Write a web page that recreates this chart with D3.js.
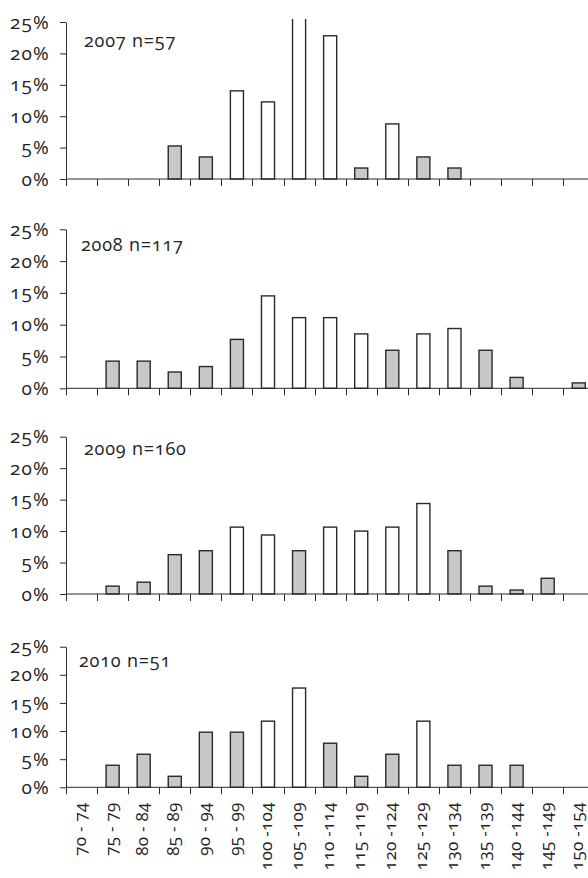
<!DOCTYPE html>
<html>
<head>
<meta charset="utf-8">
<script src="https://cdn.jsdelivr.net/npm/d3@7"></script>
<style>
  html, body { margin: 0; padding: 0; background: #fff; }
  svg { display: block; }
  text { font-family: "Open Sans", "Noto Sans", sans-serif; font-feature-settings: "onum" 1; font-variant-numeric: oldstyle-nums; fill: #222; }
</style>
</head>
<body>
<svg id="chart" width="588" height="878"></svg>
<script>
// ---- data ----
const categories = ["70 - 74","75 - 79","80 - 84","85 - 89","90 - 94","95 - 99","100 -104","105 -109","110 -114","115 -119","120 -124","125 -129","130 -134","135 -139","140 -144","145 -149","150 -154"];
const yTicks = [0, 5, 10, 15, 20, 25];
const panelLabels = ["2007 n=57", "2008 n=117", "2009 n=160", "2010 n=51"];
const values2007 = [0, 0, 0, 5.26, 3.51, 14.04, 12.28, 26.32, 22.81, 1.75, 8.77, 3.51, 1.75, 0, 0, 0, 0];
const values2008 = [0, 4.27, 4.27, 2.56, 3.42, 7.69, 14.53, 11.11, 11.11, 8.55, 5.98, 8.55, 9.40, 5.98, 1.71, 0, 0.85];
const values2009 = [0, 1.25, 1.88, 6.25, 6.88, 10.63, 9.38, 6.88, 10.63, 10.00, 10.63, 14.38, 6.88, 1.25, 0.63, 2.50, 0];
const values2010 = [0, 3.92, 5.88, 1.96, 9.80, 9.80, 11.76, 17.65, 7.84, 1.96, 5.88, 11.76, 3.92, 3.92, 3.92, 0, 0];
// white (open) bars flagged with 1, grey bars with 0
const open2007 = [0,0,0,0,0,1,1,1,1,0,1,0,0,0,0,0,0];
const open2008 = [0,0,0,0,0,0,1,1,1,1,0,1,1,0,0,0,0];
const open2009 = [0,0,0,0,0,1,1,0,1,1,1,1,0,0,0,0,0];
const open2010 = [0,0,0,0,0,0,1,1,0,0,0,1,0,0,0,0,0];

const seriesValues = [values2007, values2008, values2009, values2010];
const seriesOpen = [open2007, open2008, open2009, open2010];

// ---- layout ----
const svg = d3.select("#chart");
const left = 66, right = 594.3;
const panels = [
  {top: 22,    bottom: 179,   labelX: 84, labelY: 47},
  {top: 229.3, bottom: 388.3, labelX: 81, labelY: 251},
  {top: 436.7, bottom: 594,   labelX: 84, labelY: 455},
  {top: 646.7, bottom: 787.3, labelX: 79, labelY: 667}
];
const grey = "#c8c8c8";
const ink = "#2a2a2a";

const x = d3.scaleBand().domain(categories).range([left, right]).paddingInner(0.58).paddingOuter(0.29);

panels.forEach((p, pi) => {
  const y = d3.scaleLinear().domain([0, 25]).range([p.bottom, p.top]);
  const g = svg.append("g");

  const clipId = "clip" + pi;
  svg.append("clipPath").attr("id", clipId).append("rect")
    .attr("x", 0).attr("y", p.top - 3).attr("width", 600).attr("height", p.bottom - p.top + 10);

  // bars
  const data = categories.map((c, i) => ({c, v: seriesValues[pi][i], open: seriesOpen[pi][i]})).filter(d => d.v > 0);
  g.append("g").attr("clip-path", `url(#${clipId})`)
    .selectAll("rect").data(data).join("rect")
    .attr("x", d => x(d.c))
    .attr("width", x.bandwidth())
    .attr("y", d => y(d.v))
    .attr("height", d => y(0) - y(d.v))
    .attr("fill", d => d.open ? "#fff" : grey)
    .attr("stroke", ink)
    .attr("stroke-width", 1.4);

  // y axis
  const ya = d3.axisLeft(y).tickValues(yTicks).tickFormat(d => d + "%").tickSize(6).tickSizeOuter(0);
  const yg = g.append("g").attr("transform", `translate(${left},0)`).call(ya);
  yg.select(".domain").attr("stroke", ink);
  yg.selectAll(".tick line").attr("stroke", ink);
  yg.selectAll(".tick text").attr("x", -16).attr("font-size", 19).attr("letter-spacing", 1.2).attr("fill", "#222");

  // x axis baseline and boundary ticks
  g.append("line").attr("x1", left).attr("x2", 600).attr("y1", y(0)).attr("y2", y(0)).attr("stroke", ink).attr("stroke-width", 1);
  const step = x.step();
  d3.range(categories.length + 1).forEach(i => {
    const bx = Math.round(x.range()[0] + i * step) + 0.5;
    g.append("line").attr("x1", bx).attr("x2", bx).attr("y1", y(0)).attr("y2", y(0) + 7).attr("stroke", ink).attr("stroke-width", 1);
  });

  // panel label
  g.append("text").attr("x", p.labelX).attr("y", p.labelY).attr("font-size", 18).attr("letter-spacing", 0.8).text(panelLabels[pi]);

  // category labels on last panel
  if (pi === panels.length - 1) {
    g.selectAll(".xl").data(categories).join("text")
      .attr("class", "xl")
      .attr("transform", d => `translate(${x(d) + x.bandwidth() / 2 + 4},${y(0) + 15}) rotate(-90)`)
      .attr("text-anchor", "end")
      .attr("font-size", 17)
      .attr("letter-spacing", 0.3)
      .text(d => d);
  }
});
</script>
</body>
</html>
